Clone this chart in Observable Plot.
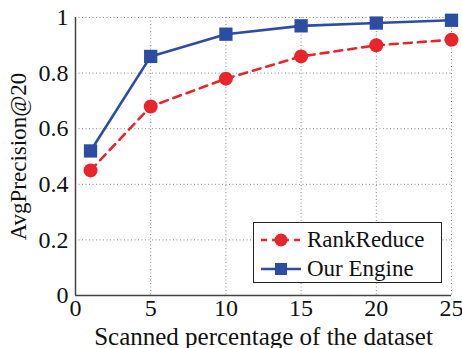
<!DOCTYPE html>
<html>
<head>
<meta charset="utf-8">
<script src="https://cdn.jsdelivr.net/npm/d3@7"></script>
<script src="https://cdn.jsdelivr.net/npm/@observablehq/plot@0.6"></script>
<style>
  html, body { margin: 0; padding: 0; background: #fff; }
  #wrap { position: relative; width: 462px; height: 348px; font-family: "Liberation Serif", "DejaVu Serif", serif; }
  #wrap svg text { font-family: "Liberation Serif", "DejaVu Serif", serif; }
  #legend { position: absolute; left: 253px; top: 222px; width: 189px; height: 61px; border: 1.2px solid #222; background: #fff; box-sizing: border-box; }
  .row { position: absolute; left: 6px; height: 26px; display: flex; align-items: center; font-size: 23px; color: #111; font-family: "Liberation Serif", serif; }
  .row svg { margin-right: 5px; }
</style>
</head>
<body>
<div id="wrap"></div>
<script>
const xValues = [1, 5, 10, 15, 20, 25];
const rankReduce = [0.45, 0.68, 0.78, 0.86, 0.90, 0.92];
const ourEngine = [0.52, 0.86, 0.94, 0.97, 0.98, 0.99];
const xTicks = [0, 5, 10, 15, 20, 25];
const yTicks = [0, 0.2, 0.4, 0.6, 0.8, 1];
const seriesNames = ["RankReduce", "Our Engine"];
const xLabel = "Scanned percentage of the dataset";
const yLabel = "AvgPrecision@20";

const red = "#e8252b";
const blue = "#2d4da3";

const rr = xValues.map((x, i) => ({x, y: rankReduce[i]}));
const oe = xValues.map((x, i) => ({x, y: ourEngine[i]}));

const font = "'Liberation Serif', 'DejaVu Serif', serif";

const chart = Plot.plot({
  width: 462,
  height: 348,
  marginLeft: 75,
  marginRight: 11,
  marginTop: 17,
  marginBottom: 53,
  style: {fontFamily: font, background: "white", color: "#111"},
  x: {domain: [0, 25]},
  y: {domain: [0, 1]},
  marks: [
    Plot.ruleX(xTicks.filter(d => d > 0), {stroke: "#888", strokeDasharray: "1,2.5", strokeWidth: 1}),
    Plot.ruleY(yTicks.filter(d => d > 0), {stroke: "#888", strokeDasharray: "1,2.5", strokeWidth: 1}),
    Plot.ruleX([0], {stroke: "#444", strokeWidth: 1.5}),
    Plot.ruleY([0], {stroke: "#444", strokeWidth: 1.5}),
    Plot.axisX({ticks: xTicks, tickSize: 0, tickPadding: 3, fontSize: 24, label: null, tickFormat: d => String(d)}),
    Plot.axisY({ticks: yTicks, tickSize: 0, tickPadding: 7, fontSize: 24, label: null, tickFormat: d => String(d)}),
    Plot.line(rr, {x: "x", y: "y", stroke: red, strokeWidth: 2.6, strokeDasharray: "8,6"}),
    Plot.dot(rr, {x: "x", y: "y", fill: red, r: 7, symbol: "circle"}),
    Plot.line(oe, {x: "x", y: "y", stroke: blue, strokeWidth: 2.6}),
    Plot.dot(oe, {x: "x", y: "y", fill: blue, r: 7.5, symbol: "square"}),
    Plot.text([xLabel], {frameAnchor: "bottom", dy: 41, fontSize: 25, lineAnchor: "middle", textAnchor: "middle", fill: "#111"}),
    Plot.text([yLabel], {frameAnchor: "left", dx: -57, rotate: -90, fontSize: 23, textAnchor: "middle", lineAnchor: "middle", fill: "#111"})
  ]
});
document.getElementById("wrap").appendChild(chart);

// legend
const legend = document.createElement("div");
legend.id = "legend";
const rows = [
  {name: seriesNames[0], color: red, dash: "6,5", shape: "circle"},
  {name: seriesNames[1], color: blue, dash: null, shape: "square"}
];
rows.forEach((r, i) => {
  const row = document.createElement("div");
  row.className = "row";
  row.style.top = (4 + i * 29) + "px";
  const s = d3.create("svg").attr("width", 42).attr("height", 20);
  s.append("line").attr("x1", 1).attr("x2", 41).attr("y1", 10).attr("y2", 10)
    .attr("stroke", r.color).attr("stroke-width", 2.6).attr("stroke-dasharray", r.dash);
  if (r.shape === "circle") s.append("circle").attr("cx", 21).attr("cy", 10).attr("r", 6.5).attr("fill", r.color);
  else s.append("rect").attr("x", 15).attr("y", 4).attr("width", 12).attr("height", 12).attr("fill", r.color);
  row.appendChild(s.node());
  const t = document.createElement("span");
  t.textContent = r.name;
  row.appendChild(t);
  legend.appendChild(row);
});
document.getElementById("wrap").appendChild(legend);
</script>
</body>
</html>
